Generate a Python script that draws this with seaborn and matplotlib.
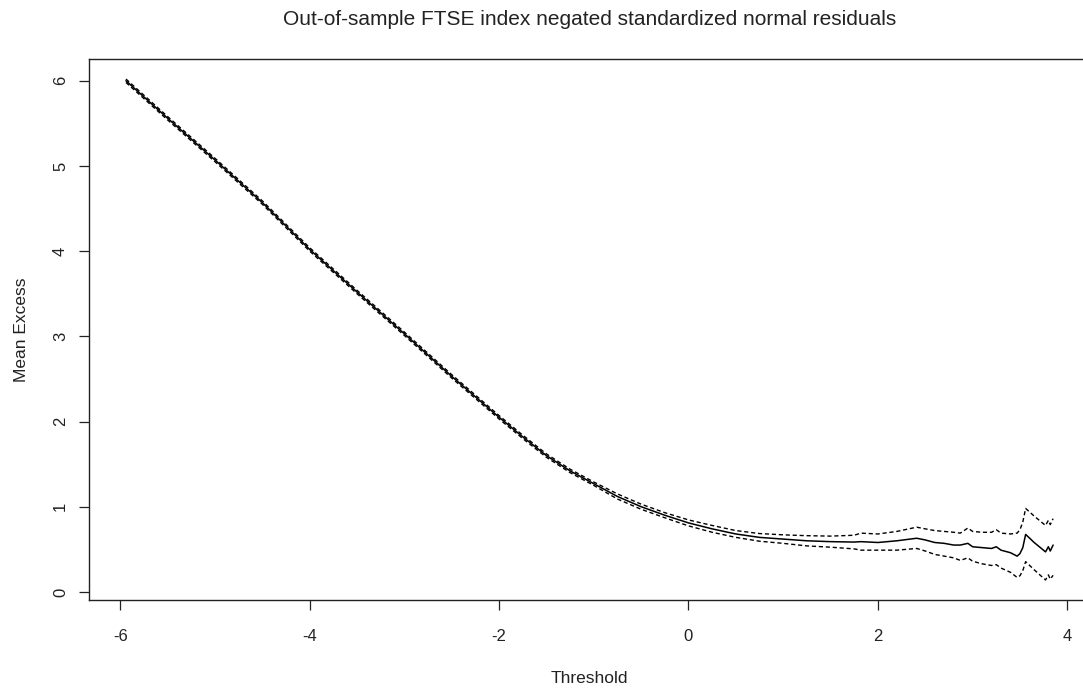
import pandas as pd
import seaborn as sns
import matplotlib.pyplot as plt

# Values
threshold = [-5.94, -5.5, -5.0, -4.5, -4.0, -3.5, -3.0, -2.5, -2.0, -1.75,
             -1.5, -1.25, -1.0, -0.75, -0.5, -0.25, 0.0, 0.25, 0.5, 0.75,
             1.0, 1.25, 1.5, 1.75, 1.82, 2.0, 2.2, 2.41, 2.5, 2.6,
             2.7, 2.8, 2.87, 2.95, 3.0, 3.1, 3.2, 3.25, 3.3, 3.4,
             3.47, 3.5, 3.53, 3.56, 3.65, 3.77, 3.80, 3.82, 3.85]
mean_excess = [6.00, 5.56, 5.07, 4.57, 4.02, 3.52, 3.03, 2.53, 2.05, 1.82,
               1.60, 1.42, 1.27, 1.12, 1.00, 0.90, 0.81, 0.74, 0.68, 0.64,
               0.62, 0.60, 0.59, 0.585, 0.59, 0.58, 0.60, 0.63, 0.61, 0.58,
               0.57, 0.55, 0.55, 0.57, 0.53, 0.52, 0.51, 0.53, 0.49, 0.46,
               0.42, 0.45, 0.52, 0.675, 0.58, 0.47, 0.53, 0.48, 0.55]
upper_ci = [6.02, 5.58, 5.09, 4.59, 4.04, 3.54, 3.05, 2.55, 2.07, 1.84,
            1.62, 1.44, 1.29, 1.15, 1.03, 0.93, 0.845, 0.78, 0.72, 0.685,
            0.67, 0.66, 0.655, 0.665, 0.69, 0.68, 0.71, 0.76, 0.74, 0.72,
            0.71, 0.70, 0.69, 0.75, 0.71, 0.70, 0.70, 0.73, 0.69, 0.68,
            0.69, 0.73, 0.82, 0.98, 0.89, 0.78, 0.84, 0.79, 0.86]
lower_ci = [5.98, 5.54, 5.05, 4.55, 4.00, 3.50, 3.01, 2.51, 2.03, 1.80,
            1.58, 1.40, 1.25, 1.09, 0.97, 0.87, 0.775, 0.70, 0.64, 0.595,
            0.57, 0.54, 0.525, 0.505, 0.49, 0.49, 0.49, 0.51, 0.48, 0.44,
            0.42, 0.40, 0.37, 0.40, 0.36, 0.33, 0.31, 0.32, 0.28, 0.23,
            0.17, 0.19, 0.25, 0.355, 0.26, 0.14, 0.20, 0.15, 0.195]

df = pd.DataFrame({'Threshold': threshold, 'Mean': mean_excess,
                   'Upper': upper_ci, 'Lower': lower_ci})

sns.set_style('ticks')
plt.rcParams['font.family'] = ['Liberation Sans', 'DejaVu Sans']

fig = plt.figure(figsize=(10.83, 6.88), dpi=100)
ax = fig.add_axes([0.0822, 0.1279, 0.9243, 0.7863])

# mean excess line plus dashed confidence bands
sns.lineplot(data=df, x='Threshold', y='Mean', ax=ax, color='black', lw=1.1,
             estimator=None)
for col in ['Upper', 'Lower']:
    sns.lineplot(data=df, x='Threshold', y=col, ax=ax, color='black', lw=1.0,
                 estimator=None, linestyle=(0, (3, 2)))

ax.set_xlim(-6.33, 4.24)
ax.set_ylim(-0.095, 6.255)
ax.set_xticks([-6, -4, -2, 0, 2, 4])
ax.set_yticks([0, 1, 2, 3, 4, 5, 6])
ax.set_xticklabels(['-6', '-4', '-2', '0', '2', '4'])
ax.set_yticklabels(['0', '1', '2', '3', '4', '5', '6'], rotation=90, va='center')

for s in ax.spines.values():
    s.set_color('#222222')
    s.set_linewidth(1.0)
ax.spines['right'].set_visible(False)
ax.tick_params(axis='both', direction='out', length=7.2, width=0.9,
               color='#222222', labelsize=12, labelcolor='#222222')
ax.tick_params(axis='x', pad=13.5)
ax.tick_params(axis='y', pad=8)

ax.set_xlabel('Threshold', fontsize=12.5, labelpad=19.5, color='#222222')
ax.set_ylabel('Mean Excess', fontsize=12.5, labelpad=17, color='#222222')
ax.set_title('Out-of-sample FTSE index negated standardized normal residuals',
             fontsize=15, pad=24.5, color='#222222')

plt.savefig('out.png', dpi=100)
